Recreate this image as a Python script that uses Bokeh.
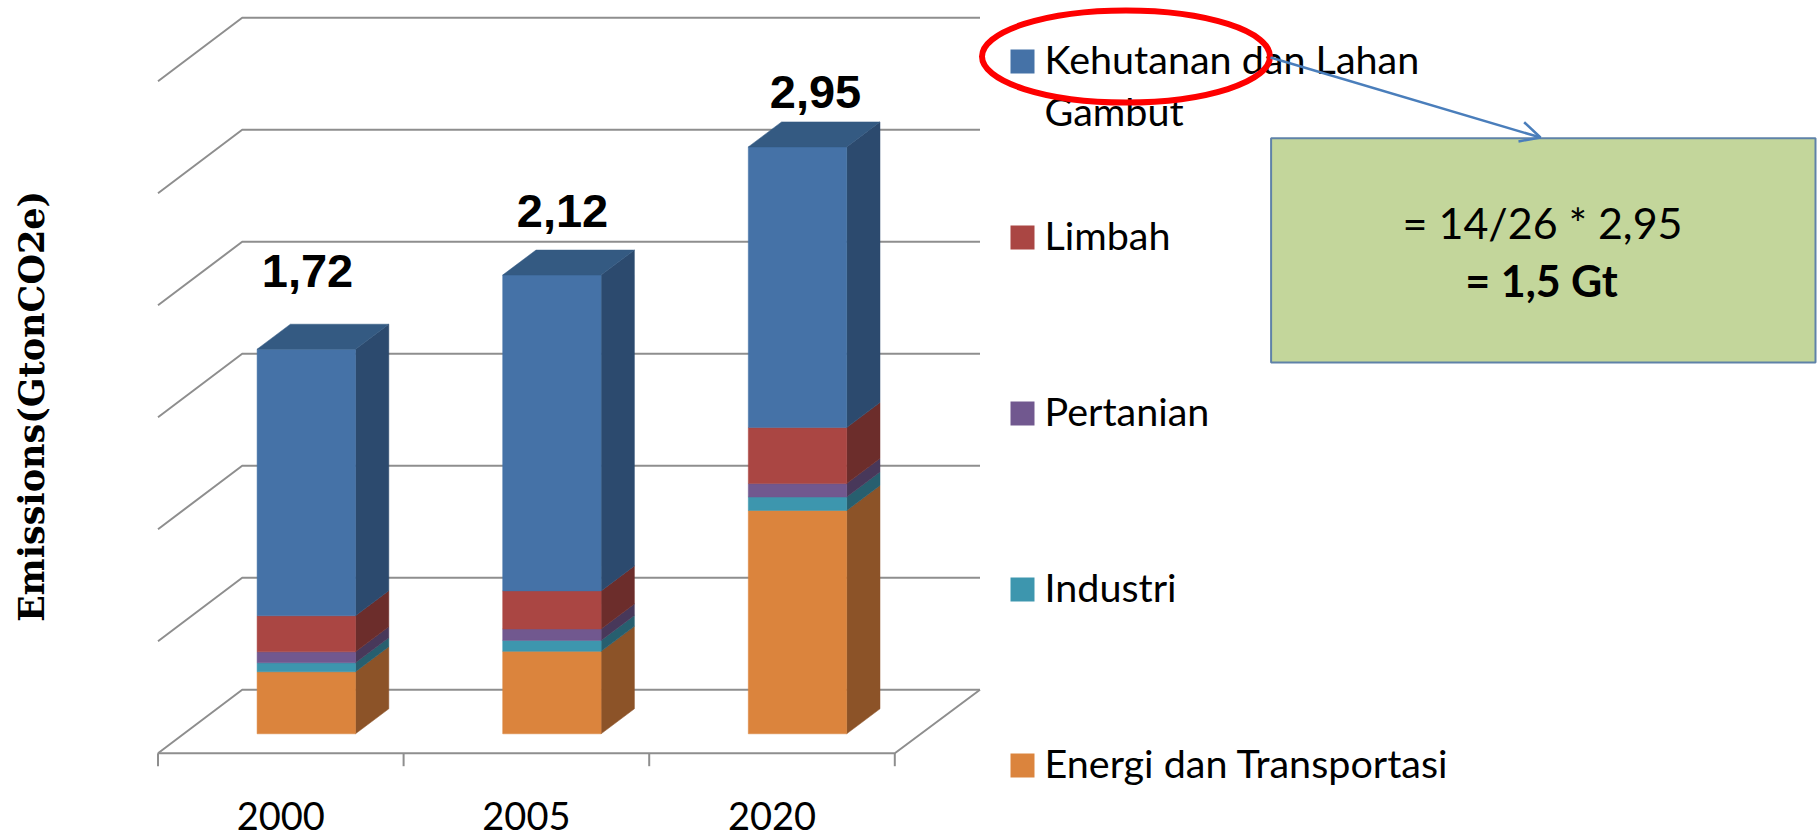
from bokeh.plotting import figure
from bokeh.models import Range1d, Arrow, OpenHead
from bokeh.core.properties import value
from bokeh.embed import file_html
from bokeh.resources import INLINE

# ---- data ----
years = ["2000", "2005", "2020"]
total_labels = ["1,72", "2,12", "2,95"]
energi = [0.277, 0.368, 0.997]
industri = [0.04, 0.049, 0.06]
pertanian = [0.049, 0.051, 0.06]
limbah = [0.161, 0.17, 0.25]
kehutanan = [1.19, 1.41, 1.253]
grid_values = [0, 0.5, 1.0, 1.5, 2.0, 2.5, 3.0]
legend_names = ["Kehutanan dan Lahan", "Limbah", "Pertanian", "Industri", "Energi dan Transportasi"]
y_title = "Emissions(GtonCO2e)"
box_lines = ["= 14/26 * 2,95", "= 1,5 Gt"]

# ---- layout: page pixels <-> data ----
W, H = 1818, 838
PX_X, PX_Y = 245.6, 224.0       # pixels per category, pixels per value unit
X0, Y0 = 305.8, 733.3           # page pixel of category 0 centre, value 0
def X(px): return (px - X0) / PX_X
def Y(py): return (Y0 - py) / PX_Y

p = figure(width=W, height=H, output_backend="svg", toolbar_location=None,
           x_range=Range1d(X(0), X(W)), y_range=Range1d(Y(H), Y(0)),
           min_border=0, min_border_left=0, min_border_right=0, min_border_top=0, min_border_bottom=0,
           outline_line_color=None)
p.axis.visible = False
p.grid.visible = False
p.background_fill_color = "white"

GRID = "#8e8e8e"
BAR_W = 98.4 / PX_X
DX, DY = 33.3 / PX_X, 25.0 / PX_Y
WALL_L, WALL_B_X, AX_R = X(157.5), X(241.7), X(894.3)
WALL_R = X(979.5)
FLOOR_BACK, FLOOR_FRONT = Y(689.3), Y(752.7)

# walls
for v in grid_values:
    yb = FLOOR_BACK + v
    yf = FLOOR_FRONT + v
    p.line([WALL_L, WALL_B_X, WALL_R], [yf, yb, yb], line_color=GRID, line_width=2)
p.line([WALL_L, AX_R, WALL_R], [FLOOR_FRONT, FLOOR_FRONT, FLOOR_BACK], line_color=GRID, line_width=2)
for i in range(4):
    xt = WALL_L + i
    p.line([xt, xt], [FLOOR_FRONT, FLOOR_FRONT - 13 / PX_Y], line_color=GRID, line_width=2)

# stacked 3D columns
series = [
    (energi, "#db843d", "#8c5328", None),
    (industri, "#3d96ae", "#275f6f", None),
    (pertanian, "#71588f", "#48385a", None),
    (limbah, "#aa4643", "#6c2d2b", None),
    (kehutanan, "#4572a7", "#2c4a6e", "#345a82"),
]
for i in range(len(years)):
    base = 0.0
    xl, xr = i - BAR_W / 2, i + BAR_W / 2
    for vals, front, side, top in series:
        t = base + vals[i]
        p.patch([xr, xr + DX, xr + DX, xr], [base, base + DY, t + DY, t], fill_color=side, line_color=side, line_width=0.5)
        p.quad(left=xl, right=xr, bottom=base, top=t, fill_color=front, line_color=front, line_width=0.5)
        if top:
            p.patch([xl, xl + DX, xr + DX, xr], [t, t + DY, t + DY, t], fill_color=top, line_color=top, line_width=0.5)
        base = t

# year labels
p.text([X(280.3), X(525.9), X(771.5)], [Y(815)] * 3, text=years, text_font=value("Lato"),
       text_font_size="38px", text_color="black", text_align="center", text_baseline="alphabetic")

# totals
p.text([X(307), X(562), X(815)], [Y(270), Y(210), Y(91)], text=total_labels,
       text_font=value("Liberation Sans"), text_font_style="bold", text_font_size="47px",
       text_color="black", text_align="center", text_baseline="alphabetic")

# axis title
p.text([X(31)], [Y(406)], text=[y_title], angle=1.5708, text_font=value("DejaVu Serif"),
       text_font_style="bold", text_font_size="35px", text_color="black",
       text_align="center", text_baseline="middle")

# legend
legend_cols = ["#4572a7", "#aa4643", "#71588f", "#3d96ae", "#db843d"]
for k, (nm, c) in enumerate(zip(legend_names, legend_cols)):
    cy = 61 + 176 * k
    p.quad(left=X(1010), right=X(1034), top=Y(cy - 12), bottom=Y(cy + 12), fill_color=c, line_color=None)
    p.text([X(1044)], [Y(cy - 3)], text=[nm], text_font=value("Lato"), text_font_size="39.5px",
           text_color="black", text_align="left", text_baseline="alphabetic")
p.text([X(1044)], [Y(110)], text=["Gambut"], text_font=value("Lato"), text_font_size="39.5px",
       text_color="black", text_align="left", text_baseline="alphabetic")

# callout box
p.quad(left=X(1270.6), right=X(1815), top=Y(137.7), bottom=Y(362), fill_color="#c3d69b",
       line_color="#5f82a8", line_width=2)
p.text([X(1542)], [Y(222)], text=[box_lines[0]], text_font=value("Lato"), text_font_size="43px",
       text_color="black", text_align="center", text_baseline="alphabetic")
p.text([X(1541)], [Y(280)], text=[box_lines[1]], text_font=value("Lato"), text_font_style="bold",
       text_font_size="43px", text_color="black", text_align="center", text_baseline="alphabetic")

# red ring
p.ellipse([X(1125.5)], [Y(56)], width=288 / PX_X, height=92 / PX_Y, fill_color=None,
          line_color="#fe0000", line_width=6)

# arrow
p.add_layout(Arrow(end=OpenHead(size=20, line_color="#4a7ebb", line_width=2.5),
                   x_start=X(1270), y_start=Y(57), x_end=X(1540), y_end=Y(137),
                   line_color="#4a7ebb", line_width=2.5))

open("out.html", "w").write(file_html(p, INLINE))
